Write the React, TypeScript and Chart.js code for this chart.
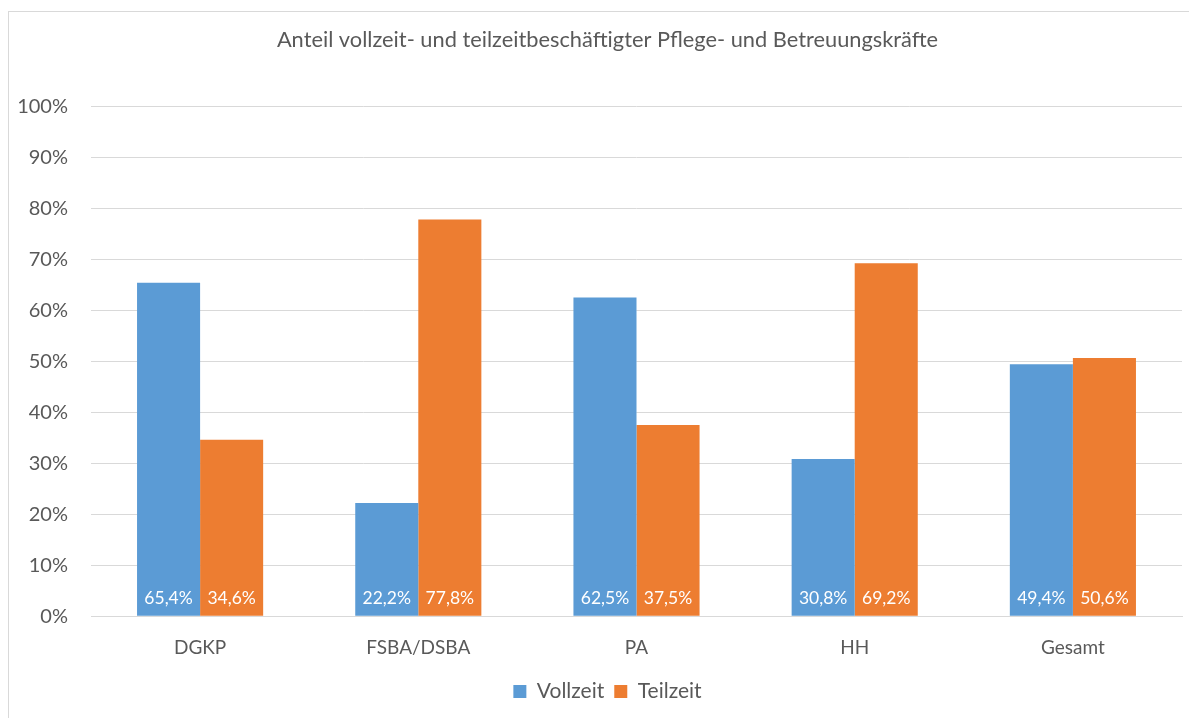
import React, { useEffect, useRef } from "react";
import { Chart, registerables } from "chart.js";

Chart.register(...registerables);

const categories = ["DGKP", "FSBA/DSBA", "PA", "HH", "Gesamt"];
const vollzeit = [65.4, 22.2, 62.5, 30.8, 49.4];
const teilzeit = [34.6, 77.8, 37.5, 69.2, 50.6];
const seriesNames = ["Vollzeit", "Teilzeit"];
const yTicks = [0, 10, 20, 30, 40, 50, 60, 70, 80, 90, 100];
const titleText = "Anteil vollzeit- und teilzeitbeschäftigter Pflege- und Betreuungskräfte";

const FONT = "Lato, 'Open Sans', sans-serif";
const GRAY = "#595959";

const barLabels = {
  id: "barLabels",
  afterDatasetsDraw(chart: any) {
    const ctx = chart.ctx;
    ctx.save();
    ctx.fillStyle = "#ffffff";
    ctx.font = `17.5px ${FONT}`;
    ctx.textAlign = "center";
    ctx.textBaseline = "middle";
    chart.data.datasets.forEach((ds: any, i: number) => {
      const meta = chart.getDatasetMeta(i);
      meta.data.forEach((bar: any, j: number) => {
        const v = ds.data[j];
        const txt = v.toFixed(1).replace(".", ",") + "%";
        ctx.fillText(txt, bar.x, bar.base - 17);
      });
    });
    ctx.restore();
  },
};

export default function App() {
  const ref = useRef<HTMLCanvasElement | null>(null);
  useEffect(() => {
    if (!ref.current) return;
    const chart = new Chart(ref.current, {
      type: "bar",
      data: {
        labels: categories,
        datasets: [
          { label: seriesNames[0], data: vollzeit, backgroundColor: "#5B9BD5" },
          { label: seriesNames[1], data: teilzeit, backgroundColor: "#ED7D31" },
        ],
      },
      options: {
        animation: false,
        responsive: false,
        maintainAspectRatio: false,
        layout: { padding: { top: 0, left: 0, right: 3, bottom: 7 } },
        datasets: { bar: { categoryPercentage: 0.578, barPercentage: 1.0 } },
        plugins: {
          title: {
            display: true,
            text: titleText,
            color: GRAY,
            font: { family: FONT, size: 21.8, weight: "normal" },
            padding: { top: 15, bottom: 53 },
          },
          legend: {
            position: "bottom",
            labels: {
              color: GRAY,
              font: { family: FONT, size: 21 },
              boxWidth: 13,
              boxHeight: 13,
              padding: 10,
            },
          },
          tooltip: { enabled: false },
        },
        scales: {
          x: {
            afterFit: (s: any) => { s.height = s.height - 8; },
            grid: { display: false, drawTicks: false },
            border: { display: true, color: "#D9D9D9" },
            ticks: { color: GRAY, font: { family: FONT, size: 19 }, padding: 20 },
          },
          y: {
            min: 0,
            max: 100,
            afterFit: (s: any) => { s.width = 82; },
            afterBuildTicks: (s: any) => { s.ticks = yTicks.map((v) => ({ value: v })); },
            grid: { color: "#D9D9D9", drawTicks: false },
            border: { display: false },
            ticks: {
              color: GRAY,
              font: { family: FONT, size: 20 },
              padding: 23,
              callback: (v: any) => v + "%",
            },
          },
          ySpacer: {
            type: "linear",
            position: "right",
            min: 0,
            max: 100,
            afterFit: (s: any) => { s.width = 24; },
            grid: { display: false, drawTicks: false },
            border: { display: false },
            ticks: { display: false },
          },
        },
      },
      plugins: [barLabels],
    });
    return () => chart.destroy();
  }, []);
  return (
    <div
      style={{
        position: "absolute",
        left: 0,
        top: 0,
        width: 1189,
        height: 718,
        overflow: "hidden",
        background: "#fff",
      }}
    >
      <div
        style={{
          position: "absolute",
          left: 8,
          top: 11,
          width: 1200,
          height: 720,
          border: "1px solid #D9D9D9",
          background: "#fff",
        }}
      >
        <canvas ref={ref} width={1200} height={707} style={{ display: "block" }} />
      </div>
    </div>
  );
}
